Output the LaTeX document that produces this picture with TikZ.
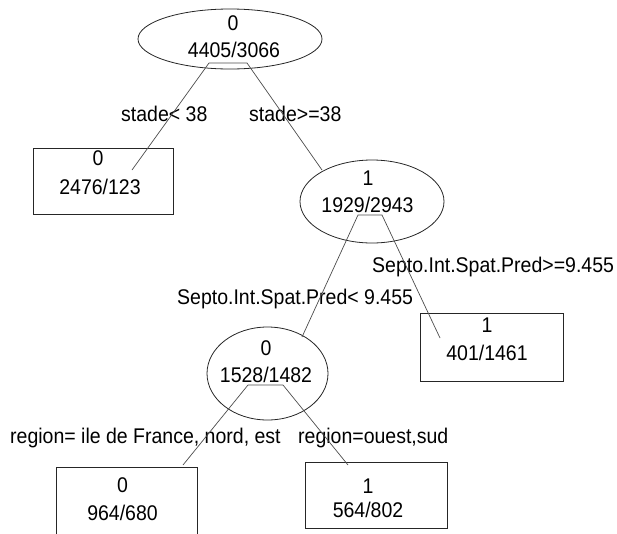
\documentclass[tikz,border=0pt]{standalone}
\usepackage{graphicx}
\usepackage{fontspec}
\setmainfont{Liberation Sans}
\usetikzlibrary{shapes.geometric}
\newcommand\vtxt[1]{\scalebox{1}[1.09]{#1}}
\begin{document}
\begin{tikzpicture}[x=1pt,y=-1pt]
\tikzset{
  ell/.style={draw=black!85, line width=0.8pt, ellipse, inner sep=0pt},
  leaf/.style={draw=black!85, line width=0.8pt, rectangle, inner sep=0pt},
  num/.style={font=\fontsize{19.5}{24}\selectfont, inner sep=0pt, anchor=base},
  lab/.style={font=\fontsize{19.5}{24}\selectfont, inner sep=0pt, anchor=base west},
  branch/.style={draw=black!70, line width=0.7pt},
}
\useasboundingbox (0,0) rectangle (617,533);
\clip (0,0) rectangle (617,533);

% root
\node[ell, minimum width=184pt, minimum height=60pt] (n0) at (230,39) {};
\node[num] (n0a) at (233,30) {\vtxt{0}};
\node[num] (n0b) at (234,57) {\vtxt{4405/3066}};

% left leaf
\node[leaf, minimum width=140pt, minimum height=66pt] (L1) at (103,181) {};
\node[num] (L1a) at (98,165) {\vtxt{0}};
\node[num] (L1b) at (100,194) {\vtxt{2476/123}};

% node 1
\node[ell, minimum width=144pt, minimum height=83pt] (n1) at (372,201.5) {};
\node[num] (n1a) at (368,185) {\vtxt{1}};
\node[num] (n1b) at (367.5,212) {\vtxt{1929/2943}};

% leaf 401/1461
\node[leaf, minimum width=143pt, minimum height=68pt] (L2) at (491.5,347) {};
\node[num] (L2a) at (487,332) {\vtxt{1}};
\node[num] (L2b) at (487,360) {\vtxt{401/1461}};

% node 0b
\node[ell, minimum width=121pt, minimum height=93pt] (n2) at (267.5,373.5) {};
\node[num] (n2a) at (266,355) {\vtxt{0}};
\node[num] (n2b) at (266,382) {\vtxt{1528/1482}};

% leaf 964/680
\node[leaf, minimum width=141pt, minimum height=80pt] (L3) at (126.5,507) {};
\node[num] (L3a) at (122.5,492) {\vtxt{0}};
\node[num] (L3b) at (122.5,520) {\vtxt{964/680}};

% leaf 564/802
\node[leaf, minimum width=142pt, minimum height=66pt] (L4) at (376,495) {};
\node[num] (L4a) at (368,493) {\vtxt{1}};
\node[num] (L4b) at (368,517) {\vtxt{564/802}};

% labels
\node[lab] (s1) at (121,121) {\vtxt{stade< 38}};
\node[lab] (s2) at (249,121) {\vtxt{stade>=38}};
\node[lab] (s3) at (372,272) {\vtxt{Septo.Int.Spat.Pred>=9.455}};
\node[lab] (s4) at (177,304) {\vtxt{Septo.Int.Spat.Pred< 9.455}};
\node[lab] (s5) at (10,443) {\vtxt{region= ile de France, nord, est}};
\node[lab] (s6) at (298,443) {\vtxt{region=ouest,sud}};

% connector coordinates
\coordinate (r0l) at (209,63);
\coordinate (r0r) at (247,63);
\coordinate (e1) at (132,170);
\coordinate (e2) at (322,170);
\coordinate (r1l) at (358,215);
\coordinate (r1r) at (382,215);
\coordinate (e3) at (302,337);
\coordinate (e4) at (440,338);
\coordinate (r2l) at (248,385);
\coordinate (r2r) at (283,385);
\coordinate (e5) at (183,465);
\coordinate (e6) at (348,465);

\draw[branch] (e1) -- (r0l) -- (r0r) -- (e2);
\draw[branch] (e3) -- (r1l) -- (r1r) -- (e4);
\draw[branch] (e5) -- (r2l) -- (r2r) -- (e6);
\end{tikzpicture}
\end{document}
